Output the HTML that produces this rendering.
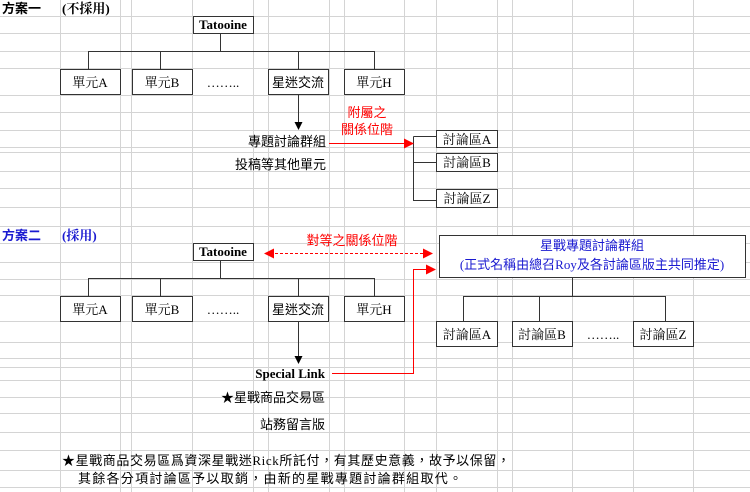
<!DOCTYPE html>
<html><head><meta charset="utf-8"><style>
body{margin:0;background:#fff;}
svg{display:block;}
text{font-family:"Liberation Serif","Noto Serif CJK SC","Noto Sans CJK TC",serif;font-size:13px;}
.s{font-family:"Liberation Serif","Noto Sans CJK TC",sans-serif;}
</style></head><body>
<svg width="750" height="492" viewBox="0 0 750 492" xmlns="http://www.w3.org/2000/svg">
<defs>
<marker id="ab" markerWidth="8" markerHeight="8" refX="7" refY="4" orient="auto" markerUnits="userSpaceOnUse"><path d="M0,0L8,4L0,8z" fill="#000"/></marker>
<marker id="ar" markerWidth="10" markerHeight="10" refX="9" refY="5" orient="auto" markerUnits="userSpaceOnUse"><path d="M0,0L10,5L0,10z" fill="#f00"/></marker>
<marker id="arS" markerWidth="10" markerHeight="10" refX="1" refY="5" orient="auto" markerUnits="userSpaceOnUse"><path d="M10,0L0,5L10,10z" fill="#f00"/></marker>
</defs>
<g stroke="#d4d4d4" stroke-width="1">
<line x1="60.5" y1="0" x2="60.5" y2="492"/><line x1="120.5" y1="0" x2="120.5" y2="492"/><line x1="131.5" y1="0" x2="131.5" y2="492"/><line x1="192.5" y1="0" x2="192.5" y2="492"/><line x1="253.5" y1="0" x2="253.5" y2="492"/><line x1="268.5" y1="0" x2="268.5" y2="492"/><line x1="329.5" y1="0" x2="329.5" y2="492"/><line x1="344.5" y1="0" x2="344.5" y2="492"/><line x1="404.5" y1="0" x2="404.5" y2="492"/><line x1="436.5" y1="0" x2="436.5" y2="492"/><line x1="497.5" y1="0" x2="497.5" y2="492"/><line x1="512.5" y1="0" x2="512.5" y2="492"/><line x1="572.5" y1="0" x2="572.5" y2="492"/><line x1="633.5" y1="0" x2="633.5" y2="492"/><line x1="693.5" y1="0" x2="693.5" y2="492"/>
<line x1="0" y1="16.5" x2="750" y2="16.5"/><line x1="0" y1="33.5" x2="750" y2="33.5"/><line x1="0" y1="51.5" x2="750" y2="51.5"/><line x1="0" y1="68.5" x2="750" y2="68.5"/><line x1="0" y1="95.5" x2="750" y2="95.5"/><line x1="0" y1="112.5" x2="750" y2="112.5"/><line x1="0" y1="130.5" x2="750" y2="130.5"/><line x1="0" y1="147.5" x2="750" y2="147.5"/><line x1="0" y1="152.5" x2="750" y2="152.5"/><line x1="0" y1="171.5" x2="750" y2="171.5"/><line x1="0" y1="188.5" x2="750" y2="188.5"/><line x1="0" y1="207.5" x2="750" y2="207.5"/><line x1="0" y1="226.5" x2="750" y2="226.5"/><line x1="0" y1="243.5" x2="750" y2="243.5"/><line x1="0" y1="262.5" x2="750" y2="262.5"/><line x1="0" y1="279.5" x2="750" y2="279.5"/><line x1="0" y1="295.5" x2="750" y2="295.5"/><line x1="0" y1="321.5" x2="750" y2="321.5"/><line x1="0" y1="342.5" x2="750" y2="342.5"/><line x1="0" y1="358.5" x2="750" y2="358.5"/><line x1="0" y1="367.5" x2="750" y2="367.5"/><line x1="0" y1="380.5" x2="750" y2="380.5"/><line x1="0" y1="397.5" x2="750" y2="397.5"/><line x1="0" y1="413.5" x2="750" y2="413.5"/><line x1="0" y1="432.5" x2="750" y2="432.5"/><line x1="0" y1="450.5" x2="750" y2="450.5"/><line x1="0" y1="470.5" x2="750" y2="470.5"/><line x1="0" y1="487.5" x2="750" y2="487.5"/>
</g>
<text x="2" y="13" font-weight="bold" class="s">方案一</text>
<text x="62" y="13" font-weight="bold">(不採用)</text>
<g fill="#fff" stroke="#333" stroke-width="1">
<rect x="193.5" y="16.5" width="60" height="17"/>
<rect x="60.5" y="69.5" width="60" height="25"/><rect x="132.5" y="69.5" width="60" height="25"/><rect x="268.5" y="69.5" width="60" height="25"/><rect x="344.5" y="69.5" width="60" height="25"/>
<rect x="436.5" y="130.5" width="61" height="17"/><rect x="436.5" y="153.5" width="61" height="18"/><rect x="436.5" y="189.5" width="61" height="18"/>
</g>
<g stroke="#333" fill="none">
<path d="M220.5 34V51.5M88.5 69V51.5H374.5V69M160.5 51.5V69M298.5 51.5V69"/>
<path d="M413.5 136.5H436M413.5 136.5V200.5H436M413.5 162.5H436"/>
<line x1="298.5" y1="95" x2="298.5" y2="129" marker-end="url(#ab)"/>
</g>
<text x="223" y="29" text-anchor="middle" font-weight="bold">Tatooine</text>
<text x="90" y="87" text-anchor="middle">單元A</text><text x="162" y="87" text-anchor="middle">單元B</text>
<text x="223" y="87" text-anchor="middle">……..</text><text x="298" y="87" text-anchor="middle" class="s">星迷交流</text><text x="374" y="87" text-anchor="middle">單元H</text>
<text x="326" y="146" text-anchor="end" class="s">專題討論群組</text>
<text x="326" y="169" text-anchor="end" class="s">投稿等其他單元</text>
<text x="367" y="117" text-anchor="middle" fill="#f00" class="s">附屬之</text>
<text x="367" y="134" text-anchor="middle" fill="#f00" class="s">關係位階</text>
<line x1="329" y1="143.5" x2="413" y2="143.5" stroke="#f00" marker-end="url(#ar)"/>
<text x="467" y="144" text-anchor="middle">討論區A</text><text x="467" y="167" text-anchor="middle">討論區B</text><text x="467" y="203" text-anchor="middle">討論區Z</text>

<text x="2" y="240" font-weight="bold" fill="#1a1ad0" class="s">方案二</text>
<text x="62" y="240" font-weight="bold" fill="#1a1ad0">(採用)</text>
<text x="352" y="245" text-anchor="middle" fill="#f00" class="s">對等之關係位階</text>
<g fill="#fff" stroke="#333" stroke-width="1">
<rect x="193.5" y="243.5" width="60" height="17"/>
<rect x="60.5" y="296.5" width="60" height="25"/><rect x="132.5" y="296.5" width="60" height="25"/><rect x="268.5" y="296.5" width="60" height="25"/><rect x="344.5" y="296.5" width="60" height="25"/>
<rect x="439.5" y="235.5" width="306" height="42"/>
<rect x="436.5" y="321.5" width="61" height="25"/><rect x="512.5" y="321.5" width="60" height="25"/><rect x="633.5" y="321.5" width="60" height="25"/>
</g>
<g stroke="#333" fill="none">
<path d="M220.5 261V278.5M88.5 296V278.5H374.5V296M160.5 278.5V296M298.5 278.5V296"/>
<path d="M572.5 278V296.5M463.5 321V296.5H665.5V321M539.5 296.5V321"/>
<line x1="298.5" y1="322" x2="298.5" y2="363" marker-end="url(#ab)"/>
</g>
<line x1="265" y1="253.5" x2="432" y2="253.5" stroke="#f00" stroke-dasharray="3,2" marker-end="url(#ar)" marker-start="url(#arS)"/>
<path d="M332 373.5H413.5V269.5H435" stroke="#f00" fill="none" marker-end="url(#ar)"/>
<text x="223" y="256" text-anchor="middle" font-weight="bold">Tatooine</text>
<text x="90" y="314" text-anchor="middle">單元A</text><text x="162" y="314" text-anchor="middle">單元B</text>
<text x="223" y="314" text-anchor="middle">……..</text><text x="298" y="314" text-anchor="middle" class="s">星迷交流</text><text x="374" y="314" text-anchor="middle">單元H</text>
<text x="592" y="250" text-anchor="middle" fill="#1a1ad0" class="s">星戰專題討論群組</text>
<text x="592" y="269" text-anchor="middle" fill="#1a1ad0" class="s">(正式名稱由總召Roy及各討論區版主共同推定)</text>
<text x="467" y="339" text-anchor="middle">討論區A</text><text x="542" y="339" text-anchor="middle">討論區B</text><text x="603" y="339" text-anchor="middle">……..</text><text x="663" y="339" text-anchor="middle">討論區Z</text>
<text x="325" y="378" text-anchor="end" font-weight="bold">Special Link</text>
<text x="325" y="402" text-anchor="end" class="s">★星戰商品交易區</text>
<text x="325" y="429" text-anchor="end" class="s">站務留言版</text>
<text x="62" y="465" class="s" textLength="448" lengthAdjust="spacing">★星戰商品交易區爲資深星戰迷Rick所託付，有其歷史意義，故予以保留，</text>
<text x="78" y="483" class="s" textLength="384" lengthAdjust="spacing">其餘各分項討論區予以取銷，由新的星戰專題討論群組取代。</text>
</svg>
</body></html>
